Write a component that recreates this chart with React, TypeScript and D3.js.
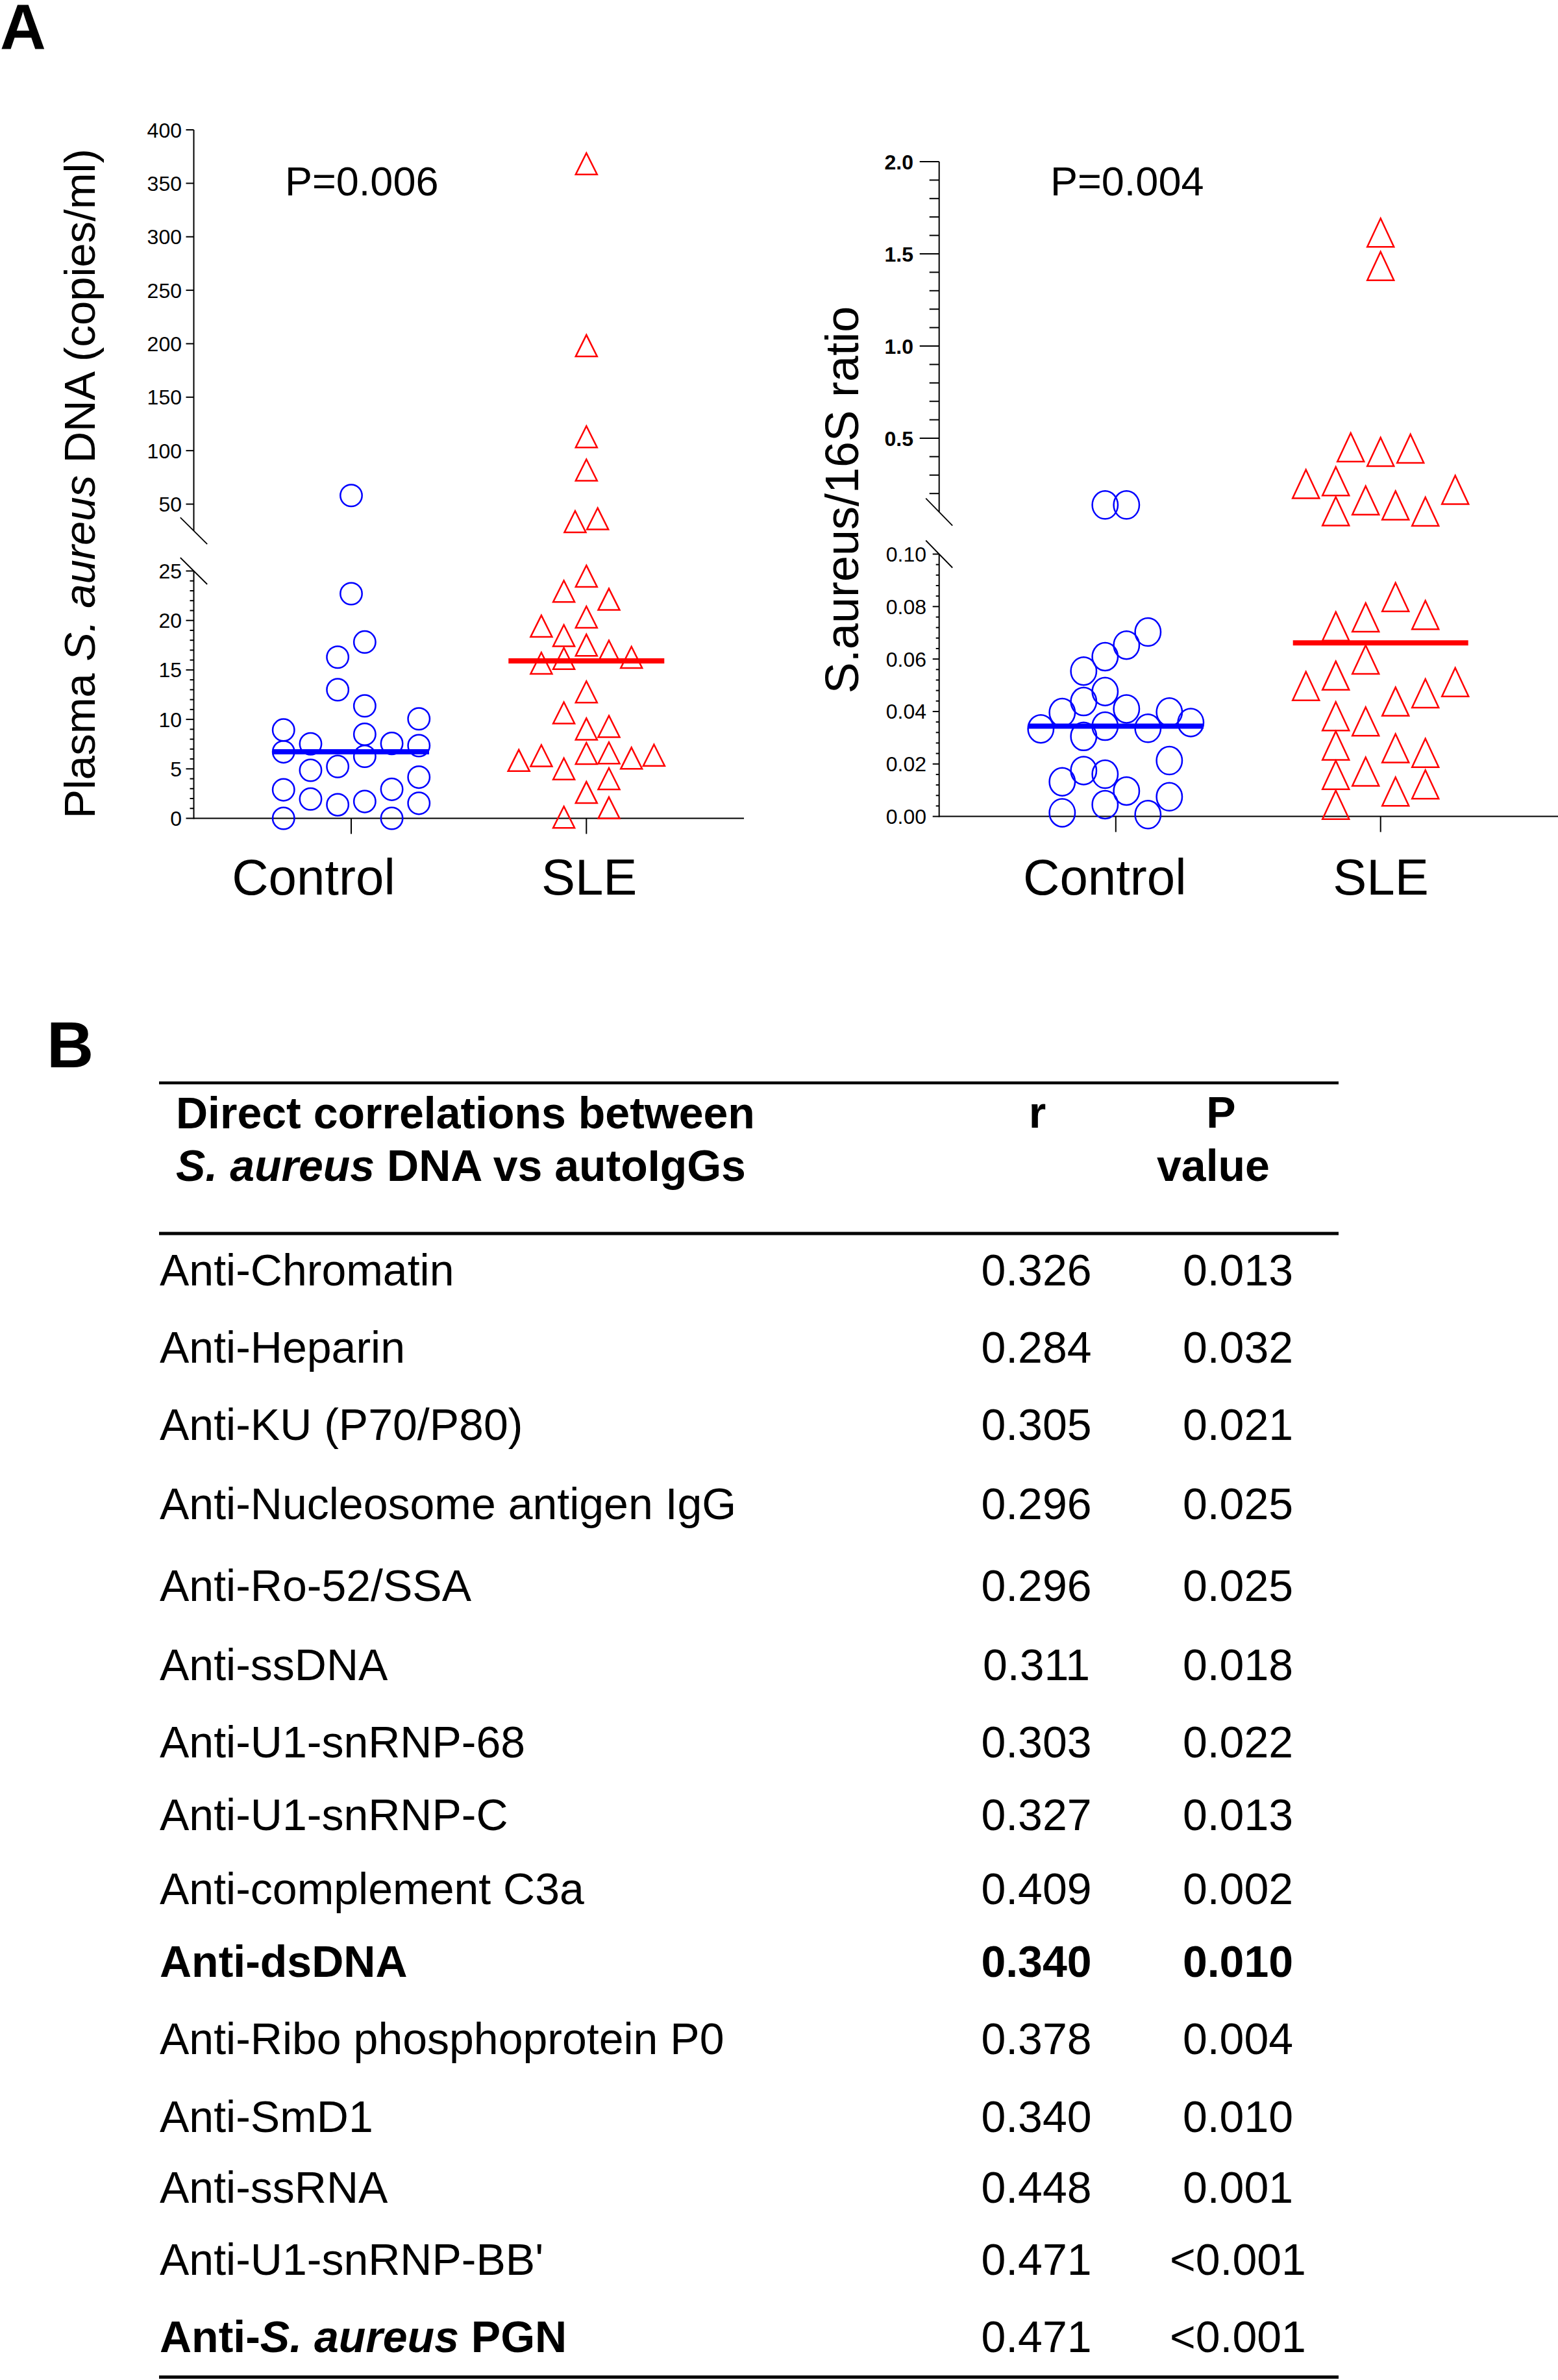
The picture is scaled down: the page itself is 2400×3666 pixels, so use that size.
import React from "react";
import * as d3 from "d3";

// ---------------- DATA ----------------
const groups = ["Control", "SLE"];

// Panel A left: Plasma S. aureus DNA (copies/ml)
const dnaControl = [8.93, 6.72, 2.88, 0, 7.53, 4.86, 1.95, 16.29, 13.0, 5.24, 1.37, 58.1, 22.7, 17.82, 11.37, 8.5, 6.27, 1.7, 7.57, 2.93, 0, 10.06, 7.35, 4.16, 1.52];
const dnaControlSlot = [-2.5, -2.5, -2.5, -2.5, -1.5, -1.5, -1.5, -0.5, -0.5, -0.5, -0.5, 0, 0, 0.5, 0.5, 0.5, 0.5, 0.5, 1.5, 1.5, 1.5, 2.5, 2.5, 2.5, 2.5];
const dnaSle = [368.3, 198.2, 113, 81.9, 33.6, 36.4, 24.48, 22.95, 22.14, 20.34, 19.43, 18.47, 17.51, 16.9, 16.27, 16.16, 15.68, 12.78, 10.66, 9.03, 9.29, 5.85, 6.33, 5.0, 6.56, 6.61, 6.08, 6.38, 4.0, 2.62, 1.06, 0.12];
const dnaSleSlot = [0, 0, 0, 0, -0.5, 0.5, 0, -1, 1, 0, -2, -1, 0, 1, 2, -1, -2, 0, -1, 0, 1, -3, -2, -1, 0, 1, 2, 3, 1, 0, 1, -1];

// Panel A right: S.aureus/16S ratio
const ratioControl = [0.138, 0.138, 0.0334, 0.0396, 0.0132, 0.0014, 0.0554, 0.0438, 0.0305, 0.0175, 0.0609, 0.0476, 0.0344, 0.0161, 0.0045, 0.0653, 0.041, 0.0097, 0.0703, 0.0336, 0.0007, 0.0398, 0.0213, 0.0075, 0.0358];
const ratioControlSlot = [-0.5, 0.5, -3.5, -2.5, -2.5, -2.5, -1.5, -1.5, -1.5, -1.5, -0.5, -0.5, -0.5, -0.5, -0.5, 0.5, 0.5, 0.5, 1.5, 1.5, 1.5, 2.5, 2.5, 2.5, 3.5];
const ratioSle = [1.615, 1.434, 0.451, 0.426, 0.444, 0.252, 0.267, 0.163, 0.136, 0.104, 0.102, 0.22, 0.0836, 0.0759, 0.0768, 0.0725, 0.0598, 0.0497, 0.0537, 0.0512, 0.0469, 0.0438, 0.0382, 0.0362, 0.027, 0.026, 0.0242, 0.0158, 0.0171, 0.0095, 0.0122, 0.0044];
const ratioSleSlot = [0, 0, -1, 0, 1, -2.5, -1.5, -0.5, 0.5, -1.5, 1.5, 2.5, 0.5, -0.5, 1.5, -1.5, -0.5, -2.5, -1.5, 2.5, 1.5, 0.5, -1.5, -0.5, -1.5, 0.5, 1.5, -1.5, -0.5, 0.5, 1.5, -1.5];

// Axis ticks
const dnaUpperTicks = [50, 100, 150, 200, 250, 300, 350, 400];
const dnaLowerTicks = [0, 5, 10, 15, 20, 25];
const ratioUpperTicks = [0.5, 1.0, 1.5, 2.0];
const ratioLowerTicks = [0, 0.02, 0.04, 0.06, 0.08, 0.1];

const pValues = ["P=0.006", "P=0.004"];
const yTitles = ["Plasma S. aureus DNA (copies/ml)", "S.aureus/16S ratio"];

// Panel B table
const corrLabels = [
  "Anti-Chromatin",
  "Anti-Heparin",
  "Anti-KU (P70/P80)",
  "Anti-Nucleosome antigen IgG",
  "Anti-Ro-52/SSA",
  "Anti-ssDNA",
  "Anti-U1-snRNP-68",
  "Anti-U1-snRNP-C",
  "Anti-complement C3a",
  "Anti-dsDNA",
  "Anti-Ribo phosphoprotein P0",
  "Anti-SmD1",
  "Anti-ssRNA",
  "Anti-U1-snRNP-BB'",
  "Anti-S. aureus PGN",
];
const corrR = ["0.326", "0.284", "0.305", "0.296", "0.296", "0.311", "0.303", "0.327", "0.409", "0.340", "0.378", "0.340", "0.448", "0.471", "0.471"];
const corrP = ["0.013", "0.032", "0.021", "0.025", "0.025", "0.018", "0.022", "0.013", "0.002", "0.010", "0.004", "0.010", "0.001", "<0.001", "<0.001"];
const corrLabelBold = [false, false, false, false, false, false, false, false, false, true, false, false, false, false, true];
const corrValueBold = [false, false, false, false, false, false, false, false, false, true, false, false, false, false, false];

// ---------------- LAYOUT / STYLE ----------------
const FONT = "'Liberation Sans', Arial, Helvetica, sans-serif";
const BLUE = "#0000FF";
const RED = "#FF0000";
const ITALIC = "S. aureus";
// table row baselines (layout of the printed table, rows are not evenly spaced)
const ROW_BASELINES = [1980.4, 2098.7, 2218, 2340, 2465.5, 2588, 2707, 2819, 2932.7, 3045, 3163.8, 3283.5, 3393.4, 3504.3, 3623];

function rich(text: string) {
  const i = text.indexOf(ITALIC);
  if (i < 0) return text;
  return [
    <tspan key="a">{text.slice(0, i)}</tspan>,
    <tspan key="b" fontStyle="italic">{ITALIC}</tspan>,
    <tspan key="c">{text.slice(i + ITALIC.length)}</tspan>,
  ];
}

type PanelCfg = {
  axisX: number;
  xAxisY: number;
  xAxisEnd: number;
  lower: d3.ScaleLinear<number, number>;
  upper: d3.ScaleLinear<number, number>;
  split: number;
  x: d3.ScalePoint<string>;
  ctrl: number[];
  ctrlSlot: number[];
  sle: number[];
  sleSlot: number[];
  ctrlStep: number;
  sleStep: number;
  circR: [number, number];
  tri: [number, number];
  medianHalf: number;
  upperTicks: number[];
  upperMinor: number[];
  lowerTicks: number[];
  lowerMinor: number[];
  upperMajLen: number;
  upperMinLen: number;
  lowerMajLen: number;
  lowerMinLen: number;
  upperLabelGap: number;
  lowerLabelGap: number;
  upperBold: boolean;
  fmtUpper: (v: number) => string;
  fmtLower: (v: number) => string;
  breakHalf: [number, number];
  labelShift: [number, number];
  pText: string;
  pX: number;
  title: string;
  titleX: number;
  titleY: number;
  titleSize: number;
};

function Panel({ c }: { c: PanelCfg }) {
  const y = (v: number) => (v <= c.split ? c.lower(v) : c.upper(v));
  const ax = c.axisX;
  const upTop = c.upper(c.upper.domain()[1]);
  const upBot = c.upper(c.split);
  const loTop = c.lower(c.split);
  const loBot = c.lower(0);
  const tickFs = 32;
  const mCtrl = d3.median(c.ctrl) as number;
  const mSle = d3.median(c.sle) as number;
  const xc = c.x("Control") as number;
  const xs = c.x("SLE") as number;
  const [bw, bh] = c.breakHalf;
  return (
    <g fontFamily={FONT}>
      {/* axes */}
      <line x1={ax} x2={ax} y1={upTop} y2={upBot} stroke="#000" strokeWidth={2} />
      <line x1={ax} x2={ax} y1={loTop} y2={loBot + 1} stroke="#000" strokeWidth={2} />
      <line x1={ax} x2={c.xAxisEnd} y1={c.xAxisY} y2={c.xAxisY} stroke="#000" strokeWidth={2} />
      {/* break marks */}
      <line x1={ax - bw} x2={ax + bw} y1={upBot - bh} y2={upBot + bh} stroke="#000" strokeWidth={1.8} />
      <line x1={ax - bw} x2={ax + bw} y1={loTop - bh} y2={loTop + bh} stroke="#000" strokeWidth={1.8} />
      {/* ticks */}
      {c.upperMinor.map((v) => (
        <line key={"um" + v} x1={ax - c.upperMinLen} x2={ax} y1={c.upper(v)} y2={c.upper(v)} stroke="#000" strokeWidth={2} />
      ))}
      {c.upperTicks.map((v) => (
        <g key={"ut" + v}>
          <line x1={ax - c.upperMajLen} x2={ax} y1={c.upper(v)} y2={c.upper(v)} stroke="#000" strokeWidth={2} />
          <text x={ax - c.upperLabelGap} y={c.upper(v) + tickFs * 0.36} fontSize={tickFs} textAnchor="end" fontWeight={c.upperBold ? "bold" : "normal"}>
            {c.fmtUpper(v)}
          </text>
        </g>
      ))}
      {c.lowerMinor.map((v) => (
        <line key={"lm" + v} x1={ax - c.lowerMinLen} x2={ax} y1={c.lower(v)} y2={c.lower(v)} stroke="#000" strokeWidth={2} />
      ))}
      {c.lowerTicks.map((v) => (
        <g key={"lt" + v}>
          <line x1={ax - c.lowerMajLen} x2={ax} y1={c.lower(v)} y2={c.lower(v)} stroke="#000" strokeWidth={2} />
          <text x={ax - c.lowerLabelGap} y={c.lower(v) + tickFs * 0.36} fontSize={tickFs} textAnchor="end">
            {c.fmtLower(v)}
          </text>
        </g>
      ))}
      {/* x ticks + labels */}
      {groups.map((g, i) => (
        <g key={g}>
          <line x1={c.x(g)} x2={c.x(g)} y1={c.xAxisY} y2={c.xAxisY + 24} stroke="#000" strokeWidth={2} />
          <text x={(c.x(g) as number) + c.labelShift[i]} y={1378} fontSize={78} textAnchor="middle">
            {g}
          </text>
        </g>
      ))}
      {/* points */}
      {c.ctrl.map((v, i) => (
        <ellipse key={"c" + i} cx={xc + c.ctrlSlot[i] * c.ctrlStep} cy={y(v)} rx={c.circR[0]} ry={c.circR[1]} fill="none" stroke={BLUE} strokeWidth={2.5} />
      ))}
      {c.sle.map((v, i) => {
        const px = xs + c.sleSlot[i] * c.sleStep;
        const py = y(v);
        const [w, h] = c.tri;
        const p = d3.path();
        p.moveTo(px, py - h / 2);
        p.lineTo(px + w / 2, py + h / 2);
        p.lineTo(px - w / 2, py + h / 2);
        p.closePath();
        return <path key={"s" + i} d={p.toString()} fill="none" stroke={RED} strokeWidth={2.5} strokeLinejoin="miter" />;
      })}
      {/* medians */}
      <line x1={xc - c.medianHalf} x2={xc + c.medianHalf} y1={y(mCtrl)} y2={y(mCtrl)} stroke={BLUE} strokeWidth={8} />
      <line x1={xs - c.medianHalf} x2={xs + c.medianHalf} y1={y(mSle)} y2={y(mSle)} stroke={RED} strokeWidth={8} />
      {/* P value */}
      <text x={c.pX} y={300.5} fontSize={63}>
        {c.pText}
      </text>
      {/* y title */}
      <text transform={`translate(${c.titleX},${c.titleY}) rotate(-90)`} fontSize={c.titleSize} textAnchor="middle">
        {rich(c.title)}
      </text>
    </g>
  );
}

const left: PanelCfg = {
  axisX: 298.5,
  xAxisY: 1260.5,
  xAxisEnd: 1146,
  lower: d3.scaleLinear().domain([0, 25]).range([1260.5, 879.5]),
  upper: d3.scaleLinear().domain([25, 400]).range([817.7, 200]),
  split: 25,
  x: d3.scalePoint<string>().domain(groups).range([541, 903.3]),
  ctrl: dnaControl,
  ctrlSlot: dnaControlSlot,
  sle: dnaSle,
  sleSlot: dnaSleSlot,
  ctrlStep: 41.7,
  sleStep: 34.7,
  circR: [16.7, 16.8],
  tri: [33, 33],
  medianHalf: 120,
  upperTicks: dnaUpperTicks,
  upperMinor: [],
  lowerTicks: dnaLowerTicks,
  lowerMinor: d3.range(0, 26, 1).filter((v) => v % 5 !== 0),
  upperMajLen: 12,
  upperMinLen: 6,
  lowerMajLen: 12,
  lowerMinLen: 6,
  upperLabelGap: 18.5,
  lowerLabelGap: 18.5,
  upperBold: false,
  fmtUpper: d3.format("d"),
  fmtLower: d3.format("d"),
  breakHalf: [20.7, 20.5],
  labelShift: [-58, 4.3],
  pText: pValues[0],
  pX: 439,
  title: yTitles[0],
  titleX: 146,
  titleY: 745,
  titleSize: 67,
};

const right: PanelCfg = {
  axisX: 1446.7,
  xAxisY: 1257.6,
  xAxisEnd: 2400,
  lower: d3.scaleLinear().domain([0, 0.1]).range([1257.6, 853.5]),
  upper: d3.scaleLinear().domain([0.1, 2.0]).range([788.6, 249]),
  split: 0.1,
  x: d3.scalePoint<string>().domain(groups).range([1718.8, 2126.7]),
  ctrl: ratioControl,
  ctrlSlot: ratioControlSlot,
  sle: ratioSle,
  sleSlot: ratioSleSlot,
  ctrlStep: 33,
  sleStep: 46,
  circR: [19.7, 21.5],
  tri: [41, 44],
  medianHalf: 135,
  upperTicks: ratioUpperTicks,
  upperMinor: d3.range(2, 20, 1).filter((k) => k % 5 !== 0).map((k) => k / 10),
  lowerTicks: ratioLowerTicks,
  lowerMinor: d3.range(0, 26, 1).filter((k) => k % 5 !== 0).map((k) => k * 0.004),
  upperMajLen: 30,
  upperMinLen: 15,
  lowerMajLen: 10,
  lowerMinLen: 5,
  upperLabelGap: 39.7,
  lowerLabelGap: 19.7,
  upperBold: true,
  fmtUpper: d3.format(".1f"),
  fmtLower: d3.format(".2f"),
  breakHalf: [20.5, 21],
  labelShift: [-17, 0.3],
  pText: pValues[1],
  pX: 1618,
  title: yTitles[1],
  titleX: 1322,
  titleY: 770,
  titleSize: 72,
};

function Table() {
  const fs = 68;
  const x0 = 245;
  const x1 = 2062;
  return (
    <g fontFamily={FONT} fontSize={fs}>
      <line x1={x0} x2={x1} y1={1668} y2={1668} stroke="#000" strokeWidth={4.5} />
      <line x1={x0} x2={x1} y1={1900} y2={1900} stroke="#000" strokeWidth={5} />
      <line x1={x0} x2={x1} y1={3661.5} y2={3661.5} stroke="#000" strokeWidth={5} />
      <text x={271} y={1738} fontWeight="bold">
        Direct correlations between
      </text>
      <text x={271} y={1819} fontWeight="bold">
        {rich("S. aureus DNA vs autoIgGs")}
      </text>
      <text x={1598} y={1737} fontWeight="bold" textAnchor="middle">
        r
      </text>
      <text x={1881} y={1737} fontWeight="bold" textAnchor="middle">
        P
      </text>
      <text x={1869} y={1819} fontWeight="bold" textAnchor="middle">
        value
      </text>
      {corrLabels.map((lab, i) => (
        <g key={lab}>
          <text x={246} y={ROW_BASELINES[i]} fontWeight={corrLabelBold[i] ? "bold" : "normal"}>
            {rich(lab)}
          </text>
          <text x={1596.5} y={ROW_BASELINES[i]} textAnchor="middle" fontWeight={corrValueBold[i] ? "bold" : "normal"}>
            {corrR[i]}
          </text>
          <text x={1907} y={ROW_BASELINES[i]} textAnchor="middle" fontWeight={corrValueBold[i] ? "bold" : "normal"}>
            {corrP[i]}
          </text>
        </g>
      ))}
    </g>
  );
}

export default function App() {
  return (
    <svg
      width={2400}
      height={3666}
      viewBox="0 0 2400 3666"
      style={{ position: "absolute", left: 0, top: 0, background: "#fff" }}
    >
      <rect x={0} y={0} width={2400} height={3666} fill="#fff" />
      <text x={0} y={75} fontFamily={FONT} fontWeight="bold" fontSize={98}>
        A
      </text>
      <text x={72} y={1644} fontFamily={FONT} fontWeight="bold" fontSize={100}>
        B
      </text>
      <Panel c={left} />
      <Panel c={right} />
      <Table />
    </svg>
  );
}
